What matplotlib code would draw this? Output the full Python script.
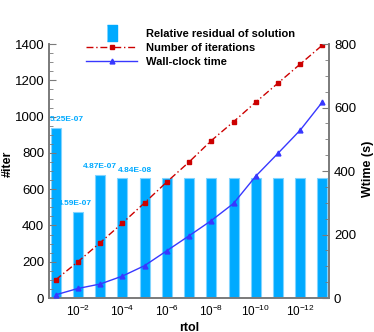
import matplotlib
matplotlib.use("Agg")
import matplotlib.pyplot as plt
from matplotlib.lines import Line2D
from matplotlib.ticker import MultipleLocator

plt.rcParams['font.family'] = ['Liberation Sans', 'DejaVu Sans']

# rtol = 10^exponent
exponents = [-1, -2, -3, -4, -5, -6, -7, -8, -9, -10, -11, -12, -13]
residual_bar = [940, 475, 680, 660, 660, 660, 660, 660, 660, 660, 660, 660, 660]
iterations = [100, 200, 305, 413, 525, 640, 750, 868, 972, 1080, 1185, 1290, 1395]
wtime = [10, 30, 44, 69, 102, 149, 196, 244, 298, 384, 456, 529, 618]

# residual labels written above some of the bars
label_bars = [-1, -2, -3, -5]
label_texts = ['5.25E-07', '4.59E-07', '4.87E-07', '4.84E-08']
label_shift = [0.5, -0.15, 0.0, -0.45]

tick_exps = [-2, -4, -6, -8, -10, -12]

bar_color = '#00aaff'
red = '#cc0000'
blue = '#3838ff'
gray = '#7a7a7a'


def main():
    fig = plt.figure(figsize=(3.74, 3.32), dpi=100)
    ax = fig.add_axes([0.131, 0.1024, 0.749, 0.7646])
    ax2 = ax.twinx()

    ax.bar(exponents, residual_bar, width=0.45, color=bar_color,
           edgecolor='#80d4ff', linewidth=0.8, zorder=1)
    ax.plot(exponents, iterations, color=red, ls=(0, (5, 2, 1, 2)), lw=1,
            marker='s', ms=3.3, zorder=3)
    ax2.plot(exponents, wtime, color=blue, lw=1, marker='^', ms=3.5, zorder=3)

    for e, t, s in zip(label_bars, label_texts, label_shift):
        h = residual_bar[exponents.index(e)]
        # x axis runs from 10^-1 (left) to 10^-13 (right)
        ax.text(e - s, h + 25, t, color=bar_color, fontsize=6, fontweight='bold',
                ha='center', va='bottom')

    ax.set_xlim(-0.7, -13.3)
    ax.set_ylim(0, 1400)
    ax2.set_ylim(0, 800)
    ax.set_xticks(tick_exps)
    ax.set_xticklabels(['$\\mathregular{10^{%d}}$' % e for e in tick_exps])
    ax.yaxis.set_major_locator(MultipleLocator(200))
    ax.yaxis.set_minor_locator(MultipleLocator(50))
    ax2.yaxis.set_major_locator(MultipleLocator(200))
    ax2.yaxis.set_minor_locator(MultipleLocator(50))

    ax.tick_params(axis='x', length=0, labelsize=8.5, pad=4)
    ax.tick_params(axis='y', which='major', direction='in', length=5,
                   color=gray, labelsize=9.5)
    ax.tick_params(axis='y', which='minor', direction='in', length=3, color=gray)
    ax2.tick_params(axis='y', which='major', direction='in', length=5,
                    color=gray, labelsize=9.5)
    ax2.tick_params(axis='y', which='minor', direction='in', length=3, color=gray)

    for a in (ax, ax2):
        for sp in a.spines.values():
            sp.set_color(gray)
            sp.set_linewidth(1.2)
        a.spines['top'].set_visible(False)

    ax.set_xlabel('rtol', fontsize=9, fontweight='bold', labelpad=2)
    ax.set_ylabel('#iter', fontsize=9, fontweight='bold')
    ax.yaxis.set_label_coords(-0.125, 0.53)
    ax2.set_ylabel('Wtime (s)', fontsize=9, fontweight='bold')
    ax2.yaxis.set_label_coords(1.118, 0.51)

    handles = [
        Line2D([], [], ls='none', color=bar_color, ms=11,
               marker=[(-0.35, -0.5), (0.35, -0.5), (0.35, 0.5), (-0.35, 0.5)]),
        Line2D([], [], color=red, ls=(0, (5, 2, 1, 2)), lw=1, marker='s', ms=3.3),
        Line2D([], [], color=blue, lw=1, marker='^', ms=3.5),
    ]
    labels = ['Relative residual of solution', 'Number of iterations',
              'Wall-clock time']
    fig.legend(handles, labels, loc='upper left', bbox_to_anchor=(0.21, 0.935),
               frameon=False, prop={'weight': 'bold', 'size': 8},
               handlelength=4.6, handletextpad=0.8, labelspacing=0.35,
               borderpad=0.2)

    fig.savefig('out.png', dpi=100)


if __name__ == "__main__":
    main()
